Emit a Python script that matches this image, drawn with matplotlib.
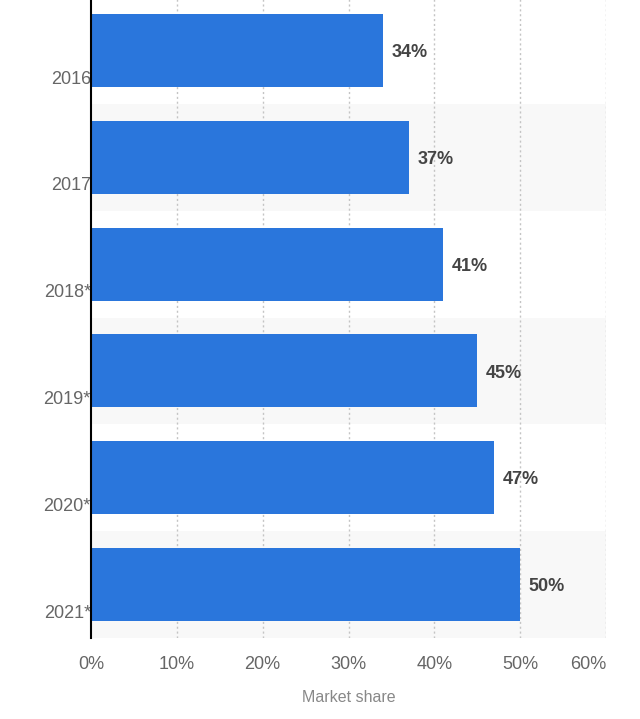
import matplotlib
matplotlib.use("Agg")
import matplotlib.pyplot as plt
from matplotlib.ticker import FuncFormatter

years = ["2016", "2017", "2018*", "2019*", "2020*", "2021*"]
shares = [34, 37, 41, 45, 47, 50]
xticks = [0, 10, 20, 30, 40, 50, 60]

plt.rcParams['font.family'] = ['Liberation Sans', 'DejaVu Sans']

fig = plt.figure(figsize=(6.4, 7.19), dpi=100)
W, H = 640, 719
ax = fig.add_axes([91 / W, (H - 638) / H, (606 - 91) / W, 641 / H])

n = len(years)
pos = list(range(n))

# alternating bands
for i in pos:
    if i % 2 == 1:
        ax.axhspan(i - 0.5, i + 0.5, color='#f8f8f8', zorder=0, lw=0)

# grid
for t in xticks[1:]:
    ax.axvline(t, color='#c4c4c4', lw=1, ls=(0, (1.5, 2)), zorder=1)

ax.barh(pos, shares, height=0.684, color='#2a76dc', zorder=2)

for p, v in zip(pos, shares):
    ax.text(v + 1.0, p + 0.02, f"{v}%", va='center', ha='left',
            fontsize=13, fontweight='bold', color='#444444', zorder=3)

ax.set_xlim(0, 60)
ax.set_ylim(n - 0.5, -0.5)

ax.set_yticks([p + 0.25 for p in pos])
ax.set_yticklabels(years)
ax.tick_params(axis='y', length=0, pad=0, labelsize=13, labelcolor='#666666')

ax.set_xticks(xticks)
ax.xaxis.set_major_formatter(FuncFormatter(lambda x, _: f"{int(x)}%"))
ax.tick_params(axis='x', length=0, pad=13, labelsize=13, labelcolor='#666666')
labels = ax.get_xticklabels()
labels[-1].set_horizontalalignment('right')

ax.set_xlabel("Market share", fontsize=11.5, color='#888888', labelpad=12.5)

for s in ['top', 'right', 'bottom']:
    ax.spines[s].set_visible(False)
ax.spines['left'].set_color('black')
ax.spines['left'].set_linewidth(1.5)
ax.spines['left'].set_zorder(4)

fig.savefig("out.png", dpi=100, facecolor='white')
